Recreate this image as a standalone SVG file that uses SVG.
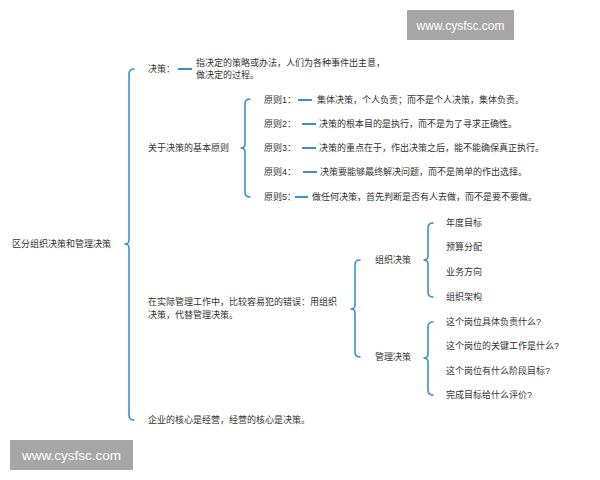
<svg xmlns="http://www.w3.org/2000/svg" width="600" height="480" viewBox="0 0 600 480">
<style>
text{font-family:"Liberation Sans","Noto Sans CJK SC",sans-serif;font-size:9px;fill:#333}
.br{fill:none;stroke:#3a8fd8;stroke-width:1.6;stroke-linecap:round;stroke-linejoin:round}
.ln{stroke:#3a8fd8;stroke-width:2}
.wm{fill:#a6a6a6}
.wmt{fill:#fff}
</style>
<rect width="600" height="480" fill="#fff"/>
<g id="connectors">
<path class="br" d="M134,69 Q129,69 129,74 L129,240 Q129,244 125,244 Q129,244 129,248 L129,415 Q129,420 134,420"/>
<path class="br" d="M250,99 Q245,99 245,104 L245,144 Q245,148 241,148 Q245,148 245,152 L245,192 Q245,197 250,197"/>
<path class="br" d="M360,260 Q355,260 355,265 L355,305 Q355,309 351,309 Q355,309 355,313 L355,352 Q355,357 360,357"/>
<path class="br" d="M433,223 Q428,223 428,228 L428,256 Q428,260 424,260 Q428,260 428,264 L428,292 Q428,297 433,297"/>
<path class="br" d="M433,322 Q428,322 428,327 L428,354 Q428,358 424,358 Q428,358 428,362 L428,390 Q428,395 433,395"/>
<line class="ln" x1="178" y1="69" x2="192" y2="69"/>
<line class="ln" x1="298" y1="100" x2="312" y2="100"/>
<line class="ln" x1="302" y1="124" x2="316" y2="124"/>
<line class="ln" x1="302" y1="148" x2="316" y2="148"/>
<line class="ln" x1="303" y1="172" x2="317" y2="172"/>
<line class="ln" x1="295" y1="197" x2="308" y2="197"/>
</g>
<g id="root"><text x="12" y="247">区分组织决策和管理决策</text></g>
<g id="n-decision"><text x="148" y="72">决策：</text></g>
<g id="n-definition"><text x="196" y="66">指决定的策略或办法，人们为各种事件出主意，</text><text x="196" y="78">做决定的过程。</text></g>
<g id="n-principles"><text x="148" y="151">关于决策的基本原则</text></g>
<g id="p1"><text x="264" y="103">原则1：</text><text x="317" y="103">集体决策，个人负责；而不是个人决策，集体负责。</text></g>
<g id="p2"><text x="264" y="127">原则2：</text><text x="319" y="127">决策的根本目的是执行，而不是为了寻求正确性。</text></g>
<g id="p3"><text x="264" y="151">原则3：</text><text x="319" y="151">决策的重点在于，作出决策之后，能不能确保真正执行。</text></g>
<g id="p4"><text x="264" y="175">原则4：</text><text x="320" y="175">决策要能够最终解决问题，而不是简单的作出选择。</text></g>
<g id="p5"><text x="264" y="200">原则5：</text><text x="312" y="200">做任何决策，首先判断是否有人去做，而不是要不要做。</text></g>
<g id="n-mistake"><text x="148" y="305">在实际管理工作中，比较容易犯的错误：用组织</text><text x="148" y="318">决策，代替管理决策。</text></g>
<g id="n-org"><text x="375" y="263">组织决策</text></g>
<g id="n-mgmt"><text x="375" y="360">管理决策</text></g>
<g id="o1"><text x="446" y="226">年度目标</text></g>
<g id="o2"><text x="446" y="250">预算分配</text></g>
<g id="o3"><text x="446" y="275">业务方向</text></g>
<g id="o4"><text x="446" y="300">组织架构</text></g>
<g id="m1"><text x="446" y="325">这个岗位具体负责什么?</text></g>
<g id="m2"><text x="446" y="349">这个岗位的关键工作是什么?</text></g>
<g id="m3"><text x="446" y="374">这个岗位有什么阶段目标?</text></g>
<g id="m4"><text x="446" y="398">完成目标给什么评价?</text></g>
<g id="n-core"><text x="148" y="423">企业的核心是经营，经营的核心是决策。</text></g>
<g id="wm1"><rect class="wm" x="407" y="10" width="107" height="30"/><text class="wmt" x="460.5" y="29.5" text-anchor="middle" style="font-size:12px">www.cysfsc.com</text></g>
<g id="wm2"><rect class="wm" x="10" y="440" width="123" height="30"/><text class="wmt" x="71.5" y="460" text-anchor="middle" style="font-size:13.5px">www.cysfsc.com</text></g>
</svg>
